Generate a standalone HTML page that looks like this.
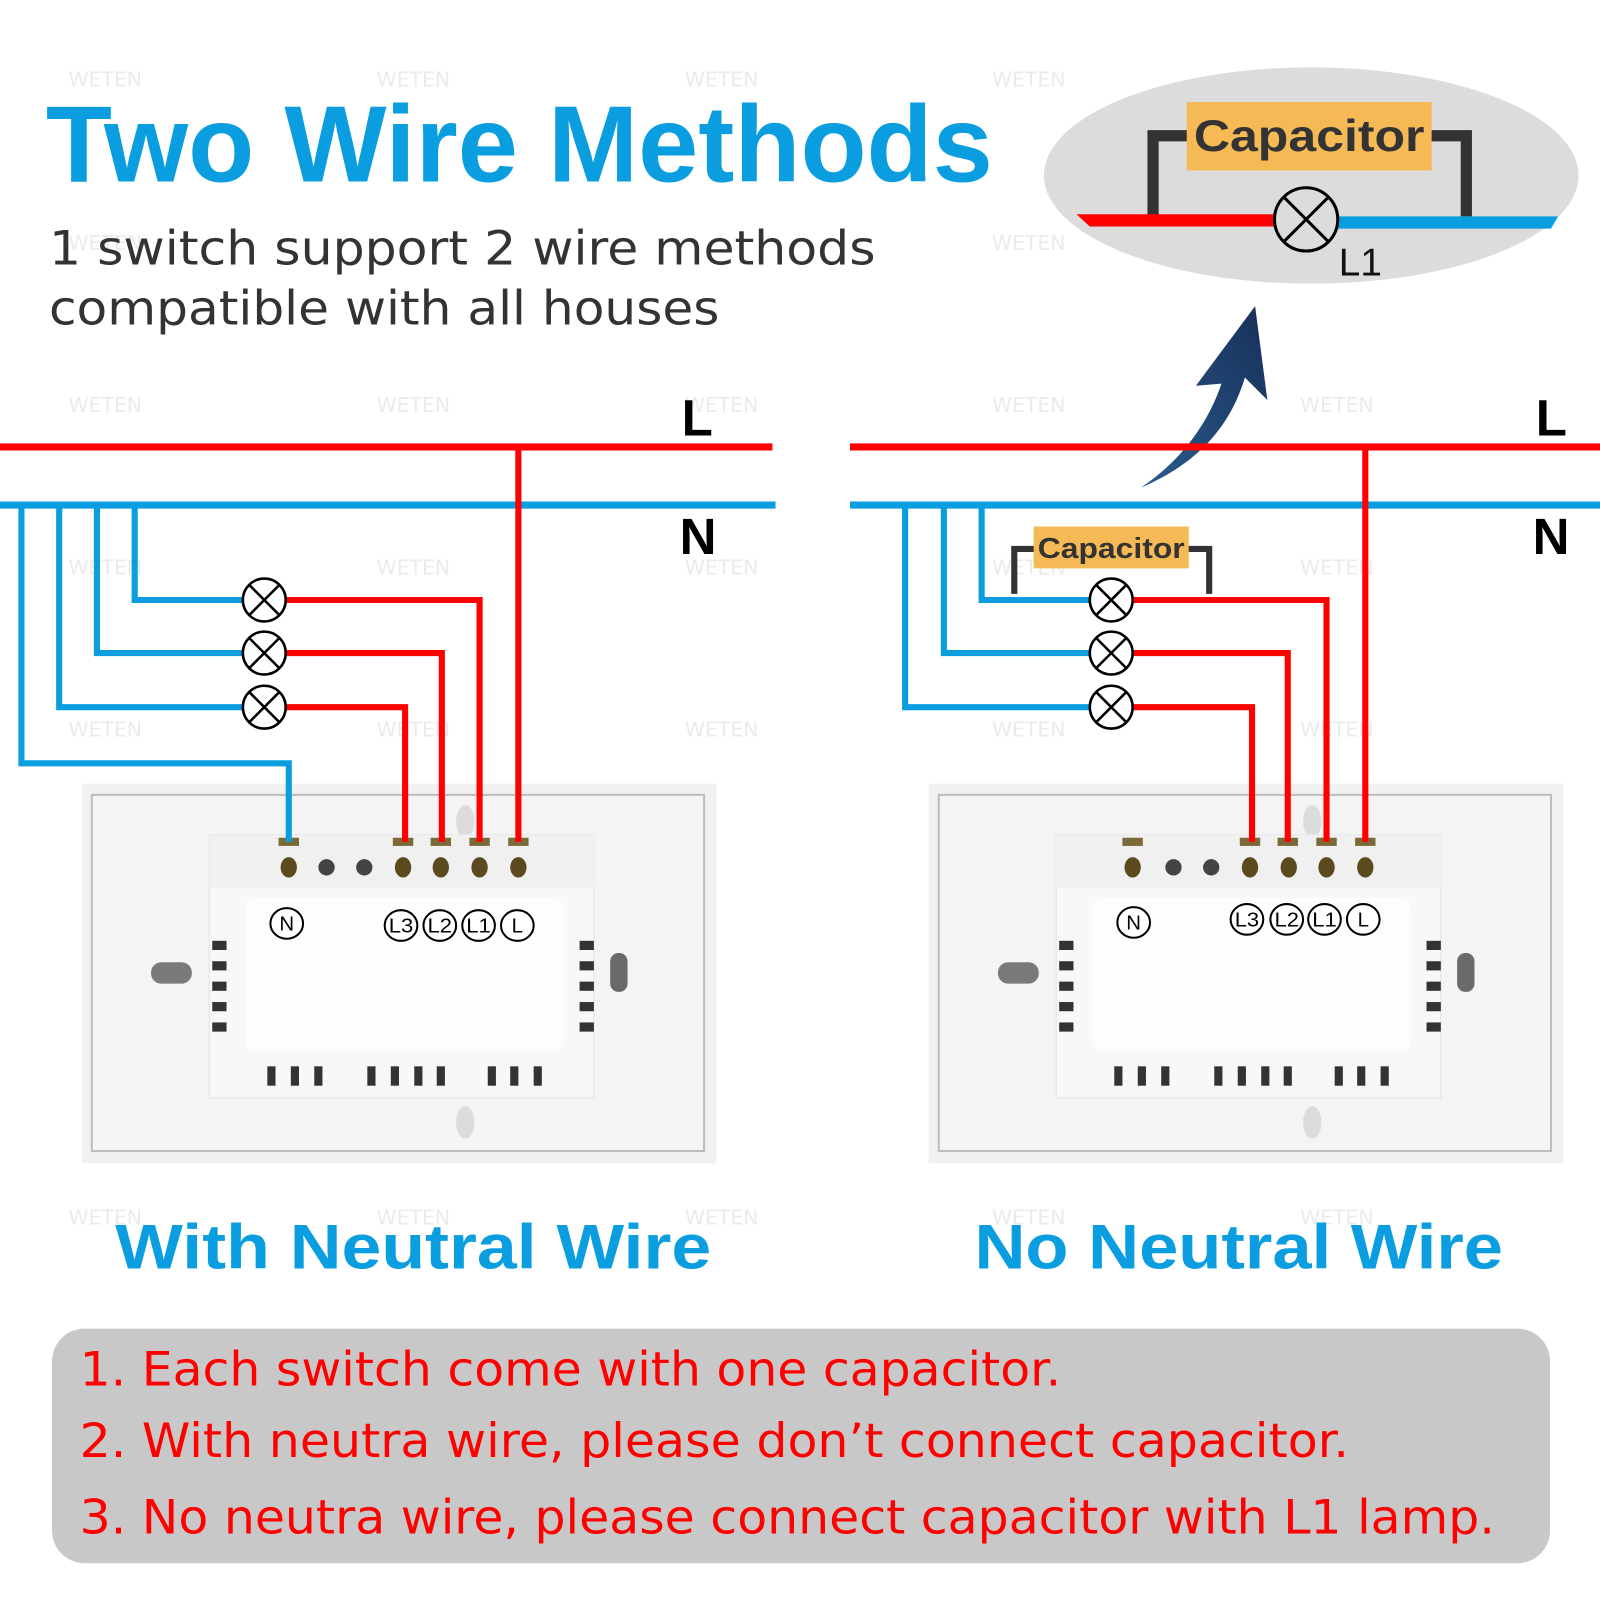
<!DOCTYPE html>
<html><head><meta charset="utf-8"><style>
html,body{margin:0;padding:0;background:#fff;}
svg{display:block;}
</style></head><body>
<svg width="1600" height="1600" viewBox="0 0 1568 1568" xmlns="http://www.w3.org/2000/svg">
<rect width="1568" height="1568" fill="#fff"/>
<defs>
<linearGradient id="ag" x1="0" y1="1" x2="1" y2="0"><stop offset="0" stop-color="#2a5c8c"/><stop offset="1" stop-color="#182f5a"/></linearGradient>
</defs>
<!-- watermarks -->
<g font-family="DejaVu Sans, sans-serif" font-size="20" fill="#ebebeb">
<text x="67" y="85">WETEN</text><text x="369" y="85">WETEN</text><text x="671" y="85">WETEN</text><text x="972" y="85">WETEN</text><text x="1274" y="85">WETEN</text>
<text x="67" y="245">WETEN</text><text x="972" y="245">WETEN</text>
<text x="67" y="404">WETEN</text><text x="369" y="404">WETEN</text><text x="671" y="404">WETEN</text><text x="972" y="404">WETEN</text><text x="1274" y="404">WETEN</text>
<text x="67" y="563">WETEN</text><text x="369" y="563">WETEN</text><text x="671" y="563">WETEN</text><text x="972" y="563">WETEN</text><text x="1274" y="563">WETEN</text>
<text x="67" y="722">WETEN</text><text x="369" y="722">WETEN</text><text x="671" y="722">WETEN</text><text x="972" y="722">WETEN</text><text x="1274" y="722">WETEN</text>
<text x="67" y="1200">WETEN</text><text x="369" y="1200">WETEN</text><text x="671" y="1200">WETEN</text><text x="972" y="1200">WETEN</text><text x="1274" y="1200">WETEN</text>
</g>

<!-- LEFT PLATE -->
<g>
<rect x="80" y="768" width="622" height="372" fill="#f1f1f1"/>
<rect x="90" y="779" width="600" height="349" fill="#f4f4f4" stroke="#bdbdbd" stroke-width="2"/>
<ellipse cx="456" cy="805" rx="9" ry="16" fill="#dcdcdc"/>
<ellipse cx="456" cy="1100" rx="9" ry="16" fill="#dcdcdc"/>
<rect x="148" y="943" width="40" height="21" rx="10" fill="#7a7a7a"/>
<rect x="598" y="934" width="17" height="38" rx="8" fill="#6a6a6a"/>
<rect x="205" y="818" width="377" height="258" fill="#f8f8f8" stroke="#e2e2e2"/>
<rect x="205" y="818" width="377" height="52" fill="#f0f0f0"/>
<rect x="240" y="880" width="313" height="150" rx="10" fill="#fdfdfd"/>
<g fill="#7a6a3a">
<rect x="273" y="821" width="20" height="8"/><rect x="385" y="821" width="20" height="8"/><rect x="422" y="821" width="20" height="8"/><rect x="460" y="821" width="20" height="8"/><rect x="498" y="821" width="20" height="8"/>
</g>
<g fill="#5a4a1e">
<ellipse cx="283" cy="850" rx="8" ry="10"/><ellipse cx="395" cy="850" rx="8" ry="10"/><ellipse cx="432" cy="850" rx="8" ry="10"/><ellipse cx="470" cy="850" rx="8" ry="10"/><ellipse cx="508" cy="850" rx="8" ry="10"/>
</g>
<circle cx="320" cy="850" r="8" fill="#444"/><circle cx="357" cy="850" r="8" fill="#444"/>
<g fill="#333">
<rect x="208" y="922" width="14" height="9"/><rect x="208" y="942" width="14" height="9"/><rect x="208" y="962" width="14" height="9"/><rect x="208" y="982" width="14" height="9"/><rect x="208" y="1002" width="14" height="9"/>
<rect x="568" y="922" width="14" height="9"/><rect x="568" y="942" width="14" height="9"/><rect x="568" y="962" width="14" height="9"/><rect x="568" y="982" width="14" height="9"/><rect x="568" y="1002" width="14" height="9"/>
<rect x="262" y="1045" width="8" height="19"/><rect x="285" y="1045" width="8" height="19"/><rect x="308" y="1045" width="8" height="19"/>
<rect x="360" y="1045" width="8" height="19"/><rect x="383" y="1045" width="8" height="19"/><rect x="406" y="1045" width="8" height="19"/><rect x="428" y="1045" width="8" height="19"/>
<rect x="478" y="1045" width="8" height="19"/><rect x="500" y="1045" width="8" height="19"/><rect x="523" y="1045" width="8" height="19"/>
</g>
<g fill="#fff" stroke="#000" stroke-width="2">
<ellipse cx="281" cy="905" rx="16" ry="15"/><ellipse cx="393" cy="907" rx="16" ry="15"/><ellipse cx="431" cy="907" rx="16" ry="15"/><ellipse cx="469" cy="907" rx="16" ry="15"/><ellipse cx="507" cy="907" rx="16" ry="15"/>
</g>
<g font-family="Liberation Sans, sans-serif" font-size="20" text-anchor="middle" fill="#000">
<text x="281" y="912">N</text><text x="393" y="914" textLength="24" lengthAdjust="spacingAndGlyphs">L3</text><text x="431" y="914" textLength="24" lengthAdjust="spacingAndGlyphs">L2</text><text x="469" y="914" textLength="24" lengthAdjust="spacingAndGlyphs">L1</text><text x="507" y="914">L</text>
</g>
</g>

<!-- RIGHT PLATE -->
<g transform="translate(830,0)">
<rect x="80" y="768" width="622" height="372" fill="#f1f1f1"/>
<rect x="90" y="779" width="600" height="349" fill="#f4f4f4" stroke="#bdbdbd" stroke-width="2"/>
<ellipse cx="456" cy="805" rx="9" ry="16" fill="#dcdcdc"/>
<ellipse cx="456" cy="1100" rx="9" ry="16" fill="#dcdcdc"/>
<rect x="148" y="943" width="40" height="21" rx="10" fill="#7a7a7a"/>
<rect x="598" y="934" width="17" height="38" rx="8" fill="#6a6a6a"/>
<rect x="205" y="818" width="377" height="258" fill="#f8f8f8" stroke="#e2e2e2"/>
<rect x="205" y="818" width="377" height="52" fill="#f0f0f0"/>
<rect x="240" y="880" width="313" height="150" rx="10" fill="#fdfdfd"/>
<g fill="#7a6a3a">
<rect x="270" y="821" width="20" height="8"/><rect x="385" y="821" width="20" height="8"/><rect x="422" y="821" width="20" height="8"/><rect x="460" y="821" width="20" height="8"/><rect x="498" y="821" width="20" height="8"/>
</g>
<g fill="#5a4a1e">
<ellipse cx="280" cy="850" rx="8" ry="10"/><ellipse cx="395" cy="850" rx="8" ry="10"/><ellipse cx="433" cy="850" rx="8" ry="10"/><ellipse cx="470" cy="850" rx="8" ry="10"/><ellipse cx="508" cy="850" rx="8" ry="10"/>
</g>
<circle cx="320" cy="850" r="8" fill="#444"/><circle cx="357" cy="850" r="8" fill="#444"/>
<g fill="#333">
<rect x="208" y="922" width="14" height="9"/><rect x="208" y="942" width="14" height="9"/><rect x="208" y="962" width="14" height="9"/><rect x="208" y="982" width="14" height="9"/><rect x="208" y="1002" width="14" height="9"/>
<rect x="568" y="922" width="14" height="9"/><rect x="568" y="942" width="14" height="9"/><rect x="568" y="962" width="14" height="9"/><rect x="568" y="982" width="14" height="9"/><rect x="568" y="1002" width="14" height="9"/>
<rect x="262" y="1045" width="8" height="19"/><rect x="285" y="1045" width="8" height="19"/><rect x="308" y="1045" width="8" height="19"/>
<rect x="360" y="1045" width="8" height="19"/><rect x="383" y="1045" width="8" height="19"/><rect x="406" y="1045" width="8" height="19"/><rect x="428" y="1045" width="8" height="19"/>
<rect x="478" y="1045" width="8" height="19"/><rect x="500" y="1045" width="8" height="19"/><rect x="523" y="1045" width="8" height="19"/>
</g>
<g fill="#fff" stroke="#000" stroke-width="2">
<ellipse cx="281" cy="904" rx="16" ry="15"/><ellipse cx="392" cy="901" rx="16" ry="15"/><ellipse cx="431" cy="901" rx="16" ry="15"/><ellipse cx="468" cy="901" rx="16" ry="15"/><ellipse cx="506" cy="901" rx="16" ry="15"/>
</g>
<g font-family="Liberation Sans, sans-serif" font-size="20" text-anchor="middle" fill="#000">
<text x="281" y="911">N</text><text x="392" y="908" textLength="24" lengthAdjust="spacingAndGlyphs">L3</text><text x="431" y="908" textLength="24" lengthAdjust="spacingAndGlyphs">L2</text><text x="468" y="908" textLength="24" lengthAdjust="spacingAndGlyphs">L1</text><text x="506" y="908">L</text>
</g>
</g>

<!-- Title -->
<text x="45" y="178" font-family="Liberation Sans, sans-serif" font-weight="bold" font-size="106" fill="#0a9ee0" textLength="928" lengthAdjust="spacingAndGlyphs">Two Wire Methods</text>
<text x="48" y="259" font-family="DejaVu Sans, sans-serif" font-size="46" fill="#333" textLength="810" lengthAdjust="spacingAndGlyphs">1 switch support 2 wire methods</text>
<text x="48" y="318" font-family="DejaVu Sans, sans-serif" font-size="46" fill="#333" textLength="657" lengthAdjust="spacingAndGlyphs">compatible with all houses</text>

<!-- Ellipse callout -->
<ellipse cx="1285" cy="172" rx="262" ry="106" fill="#dcdcdc"/>
<path d="M1130 212 V133 H1165 M1401 133 H1437 V212" fill="none" stroke="#333" stroke-width="11"/>
<rect x="1163" y="100" width="240" height="67" fill="#f5b955"/>
<text x="1283" y="148" text-anchor="middle" font-family="Liberation Sans, sans-serif" font-weight="bold" font-size="44" fill="#333" textLength="226" lengthAdjust="spacingAndGlyphs">Capacitor</text>
<path d="M1055 210 L1250 210 L1250 222 L1068 222 Z" fill="#f00"/>
<path d="M1310 212 L1527 212 L1520 224 L1310 224 Z" fill="#0a9ee0"/>
<circle cx="1280" cy="215" r="31" fill="#dcdcdc" stroke="#000" stroke-width="3"/>
<path d="M1258 193 L1302 237 M1302 193 L1258 237" stroke="#000" stroke-width="3"/>
<text x="1312" y="270" font-family="Liberation Sans, sans-serif" font-size="38" fill="#111">L1</text>

<!-- Arrow -->
<path d="M1118 478 C1160 450 1185 412 1197 376 L1172 378 L1230 300 L1242 392 L1220 370 C1205 420 1172 455 1118 478 Z" fill="url(#ag)"/>

<!-- LEFT DIAGRAM wires -->
<g fill="none" stroke-width="6" stroke-linejoin="miter">
<line x1="0" y1="438" x2="757" y2="438" stroke="#f00" stroke-width="7"/>
<line x1="0" y1="495" x2="760" y2="495" stroke="#0a9ee0" stroke-width="7"/>
<path d="M508 438 V825" stroke="#f00"/>
<path d="M21 495 V748 H283 V825" stroke="#0a9ee0"/>
<path d="M58 495 V693 H240" stroke="#0a9ee0"/>
<path d="M95 495 V640 H240" stroke="#0a9ee0"/>
<path d="M132 495 V588 H240" stroke="#0a9ee0"/>
<path d="M280 588 H470 V825" stroke="#f00"/>
<path d="M280 640 H433 V825" stroke="#f00"/>
<path d="M280 693 H397 V825" stroke="#f00"/>
</g>
<g stroke="#000" stroke-width="2.5" fill="#fff">
<circle cx="259" cy="588" r="21"/><circle cx="259" cy="640" r="21"/><circle cx="259" cy="693" r="21"/>
</g>
<path d="M244 573 L274 603 M274 573 L244 603 M244 625 L274 655 M274 625 L244 655 M244 678 L274 708 M274 678 L244 708" stroke="#000" stroke-width="2.5"/>
<text x="668" y="427" font-family="Liberation Sans, sans-serif" font-weight="bold" font-size="50">L</text>
<text x="666" y="543" font-family="Liberation Sans, sans-serif" font-weight="bold" font-size="50">N</text>

<!-- RIGHT DIAGRAM wires -->
<g fill="none" stroke-width="6">
<line x1="833" y1="438" x2="1568" y2="438" stroke="#f00" stroke-width="7"/>
<line x1="833" y1="495" x2="1568" y2="495" stroke="#0a9ee0" stroke-width="7"/>
<path d="M1338 438 V825" stroke="#f00"/>
<path d="M887 495 V693 H1070" stroke="#0a9ee0"/>
<path d="M925 495 V640 H1070" stroke="#0a9ee0"/>
<path d="M962 495 V588 H1070" stroke="#0a9ee0"/>
<path d="M1110 588 H1300 V825" stroke="#f00"/>
<path d="M1110 640 H1262 V825" stroke="#f00"/>
<path d="M1110 693 H1227 V825" stroke="#f00"/>
<path d="M994 582 V538 H1015 M1163 538 H1185 V582" stroke="#333"/>
</g>
<rect x="1013" y="516" width="152" height="41" fill="#f5b955"/>
<text x="1089" y="547" text-anchor="middle" font-family="Liberation Sans, sans-serif" font-weight="bold" font-size="28" fill="#333" textLength="144" lengthAdjust="spacingAndGlyphs">Capacitor</text>
<g stroke="#000" stroke-width="2.5" fill="#fff">
<circle cx="1089" cy="588" r="21"/><circle cx="1089" cy="640" r="21"/><circle cx="1089" cy="693" r="21"/>
</g>
<path d="M1074 573 L1104 603 M1104 573 L1074 603 M1074 625 L1104 655 M1104 625 L1074 655 M1074 678 L1104 708 M1104 678 L1074 708" stroke="#000" stroke-width="2.5"/>
<text x="1505" y="427" font-family="Liberation Sans, sans-serif" font-weight="bold" font-size="50">L</text>
<text x="1502" y="543" font-family="Liberation Sans, sans-serif" font-weight="bold" font-size="50">N</text>

<!-- Headings -->
<text x="113" y="1243" font-family="Liberation Sans, sans-serif" font-weight="bold" font-size="62" fill="#0a9ee0" textLength="584" lengthAdjust="spacingAndGlyphs">With Neutral Wire</text>
<text x="955" y="1243" font-family="Liberation Sans, sans-serif" font-weight="bold" font-size="62" fill="#0a9ee0" textLength="518" lengthAdjust="spacingAndGlyphs">No Neutral Wire</text>

<!-- Notes box -->
<rect x="51" y="1302" width="1468" height="230" rx="32" fill="#c8c8c8"/>
<g font-family="DejaVu Sans, sans-serif" font-size="46" fill="#f00">
<text x="78" y="1358" textLength="962" lengthAdjust="spacingAndGlyphs">1. Each switch come with one capacitor.</text>
<text x="78" y="1428" textLength="1244" lengthAdjust="spacingAndGlyphs">2. With neutra wire, please don’t connect capacitor.</text>
<text x="78" y="1503" textLength="1387" lengthAdjust="spacingAndGlyphs">3. No neutra wire, please connect capacitor with L1 lamp.</text>
</g>
</svg>
</body></html>
